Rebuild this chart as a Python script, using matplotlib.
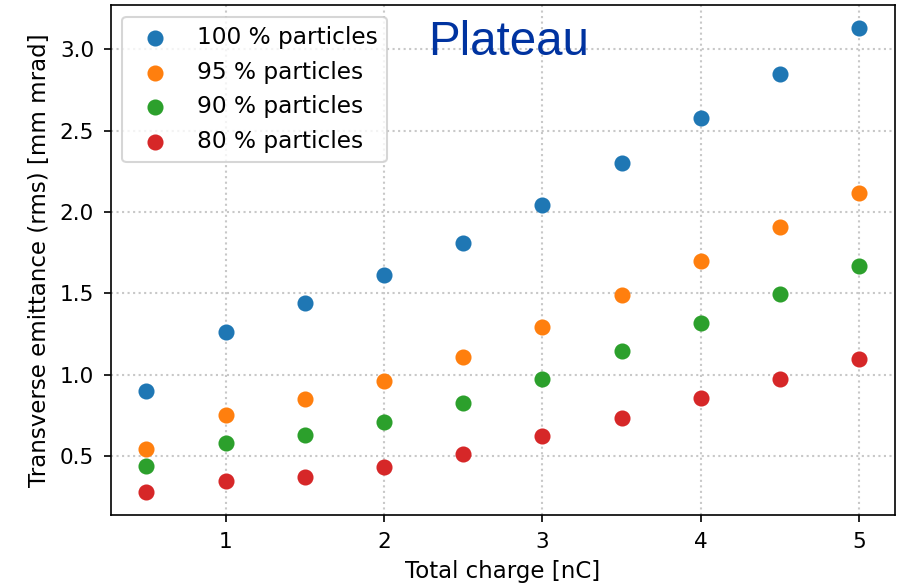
import matplotlib
matplotlib.use("Agg")
import matplotlib.pyplot as plt

# Total charge [nC]
charge = [0.5, 1.0, 1.5, 2.0, 2.5, 3.0, 3.5, 4.0, 4.5, 5.0]

# Transverse emittance (rms) [mm mrad]
emit_100 = [0.90, 1.26, 1.44, 1.61, 1.81, 2.04, 2.30, 2.58, 2.85, 3.13]
emit_95 = [0.54, 0.75, 0.85, 0.96, 1.11, 1.29, 1.49, 1.70, 1.91, 2.115]
emit_90 = [0.44, 0.58, 0.63, 0.71, 0.825, 0.975, 1.145, 1.32, 1.495, 1.67]
emit_80 = [0.28, 0.345, 0.37, 0.43, 0.515, 0.62, 0.735, 0.855, 0.975, 1.095]

labels = ["100 % particles", "95 % particles", "90 % particles", "80 % particles"]

fig, ax = plt.subplots(figsize=(904 / 150, 587 / 150), dpi=150)
fig.subplots_adjust(left=0.1225, right=0.990, bottom=0.1227, top=0.9915)

for vals, lab in zip([emit_100, emit_95, emit_90, emit_80], labels):
    ax.scatter(charge, vals, s=45, label=lab, zorder=3)

ax.grid(True, linestyle=":", color="#c8c8c8", linewidth=1.0)
ax.set_axisbelow(True)
ax.tick_params(labelsize=10.4, pad=4.5)

ax.set_xlabel("Total charge [nC]", fontsize=11)
ax.set_ylabel("Transverse emittance (rms) [mm mrad]", fontsize=11)
ax.legend(loc="upper left", fontsize=11.2)

ax.text(0.507, 0.902, "Plateau", transform=ax.transAxes, ha="center",
        va="baseline", fontsize=22.8, color="#0033A0", family="Liberation Sans")

fig.savefig("out.png", dpi=150)
